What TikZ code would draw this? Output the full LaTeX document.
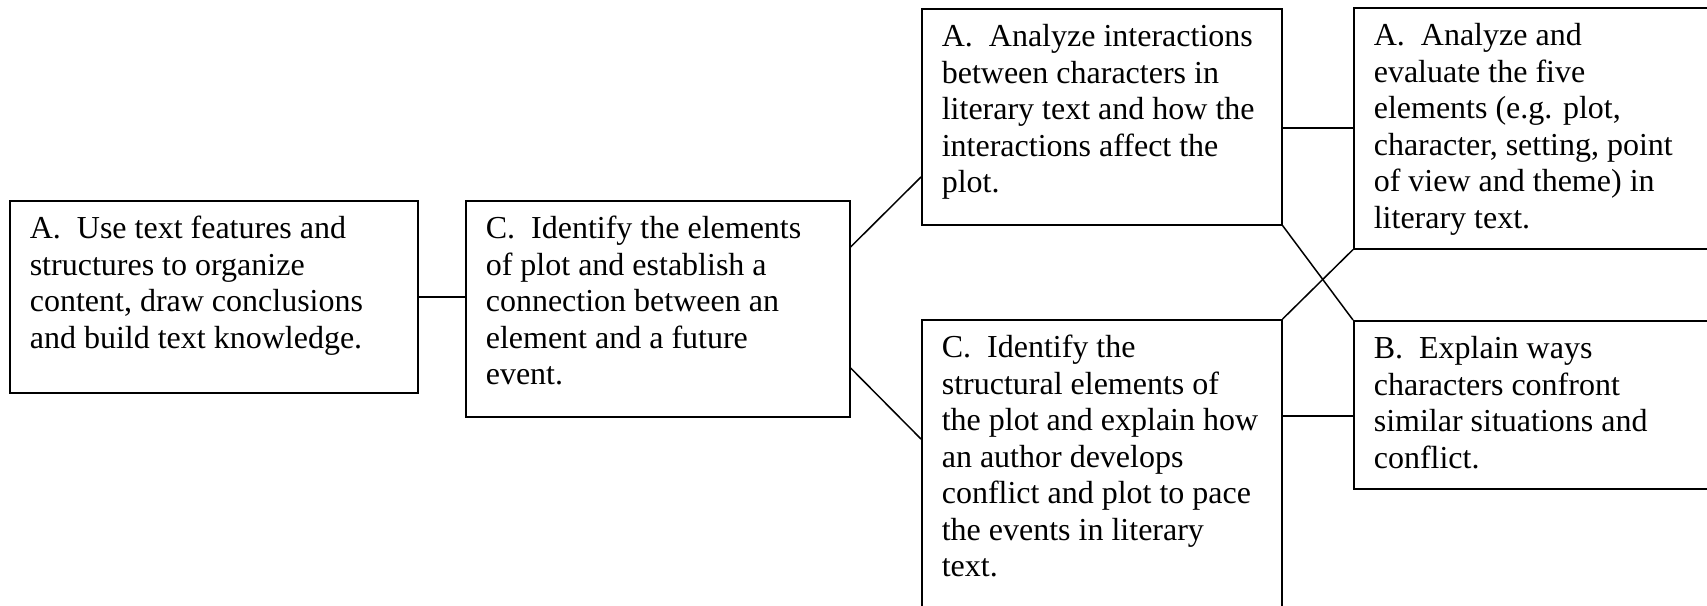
\documentclass[tikz,border=0pt]{standalone}
\usepackage{fontspec}
\setmainfont{Liberation Serif}
\usetikzlibrary{calc}
\newcommand{\bxtext}[3]{\parbox[c][#2][t]{#1}{\fontsize{32}{36.5}\selectfont\raggedright\rule{0pt}{38pt}#3}}
\tikzset{
  box/.style={draw, line width=1.6pt, anchor=north west, inner xsep=20pt, inner ysep=0pt},
  link/.style={line width=1.5pt}
}
\begin{document}
\begin{tikzpicture}[x=1pt,y=1pt]
\useasboundingbox (0,0) rectangle (1707,-605);
\clip (0,0) rectangle (1707,-605);
\node[box] (b1) at (9,-200) {\bxtext{368pt}{192pt}{A.\ \ Use text features and\\structures to organize\\content, draw conclusions\\and build text knowledge.}};
\node[box] (b2) at (465,-200) {\bxtext{344pt}{216pt}{C.\ \ Identify the elements\\of plot and establish a\\connection between an\\element and a future\\event.}};
\node[box] (b3) at (921,-8) {\bxtext{320pt}{216pt}{A.\ \ Analyze interactions\\between characters in\\literary text and how the\\interactions affect the\\plot.}};
\node[box] (b4) at (1353,-7) {\bxtext{380pt}{241pt}{A.\ \ Analyze and\\evaluate the five\\elements (e.g. plot,\\character, setting, point\\of view and theme) in\\literary text.}};
\node[box] (bC) at (921,-319) {\bxtext{320pt}{320pt}{C.\ \ Identify the\\structural elements of\\the plot and explain how\\an author develops\\conflict and plot to pace\\the events in literary\\text.}};
\node[box] (bB) at (1353,-320) {\bxtext{380pt}{168pt}{B.\ \ Explain ways\\characters confront\\similar situations and\\conflict.}};
\draw[link] (b1.east) -- (b1.east -| b2.west);
\coordinate (p1) at ($(b2.north east)+(0,-47)$);
\coordinate (p2) at ($(b3.north west)+(0,-169)$);
\draw[link] (p1) -- (p2);
\coordinate (p3) at ($(b2.north east)+(0,-168)$);
\coordinate (p4) at ($(bC.north west)+(0,-120)$);
\draw[link] (p3) -- (p4);
\coordinate (p5) at ($(b4.north west)+(0,-121)$);
\draw[link] (p5 -| b3.east) -- (p5);
\draw[link] (b3.south east) -- (bB.north west);
\draw[link] (b4.south west) -- (bC.north east);
\coordinate (p6) at ($(bB.north west)+(0,-96)$);
\draw[link] (p6 -| bC.east) -- (p6);
\end{tikzpicture}
\end{document}
